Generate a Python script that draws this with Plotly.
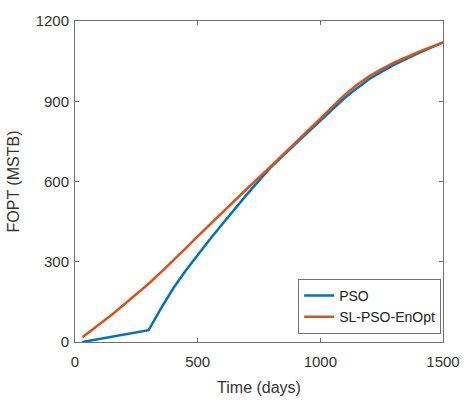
import plotly.graph_objects as go

pso_days = [30, 100, 200, 300, 350, 400, 450, 500, 550, 600, 650, 700, 750, 800, 900,
            1000, 1050, 1100, 1150, 1200, 1250, 1300, 1400, 1500]
pso_vals = [0, 11, 27, 44, 125, 200, 265, 325, 384, 440, 497, 551, 603, 655, 742,
            829, 871, 913, 949, 983, 1011, 1036, 1080, 1120]

sl_days = [30, 100, 150, 200, 250, 300, 350, 400, 450, 500, 550, 600, 700, 800, 900,
           1000, 1050, 1100, 1150, 1200, 1250, 1300, 1400, 1500]
sl_vals = [18, 66, 102, 140, 178, 218, 260, 303, 349, 395, 440, 485, 572, 658, 745,
           835, 880, 925, 962, 994, 1020, 1044, 1084, 1120]

x_ticks = [0, 500, 1000, 1500]
y_ticks = [0, 300, 600, 900, 1200]

fig = go.Figure()
fig.add_trace(go.Scatter(x=pso_days, y=pso_vals, mode="lines", name="PSO",
                         line=dict(color="#0072BD", width=2.5)))
fig.add_trace(go.Scatter(x=sl_days, y=sl_vals, mode="lines", name="SL-PSO-EnOpt",
                         line=dict(color="#D95319", width=2.5)))

axis_common = dict(showgrid=False, zeroline=False, showline=True, linecolor="#707070",
                   linewidth=1, mirror="ticks", ticks="inside", ticklen=4, tickcolor="#707070",
                   tickfont=dict(family="Liberation Sans, Arial", size=15, color="#333333"))

fig.update_xaxes(range=[0, 1500], tickvals=x_ticks, ticklabelstandoff=6,
                 title=dict(text="Time (days)", font=dict(family="Liberation Sans, Arial", size=16, color="#333333"), standoff=12),
                 **axis_common)
fig.update_yaxes(range=[0, 1200], tickvals=y_ticks, ticklabelstandoff=2,
                 title=dict(text="FOPT (MSTB)", font=dict(family="Liberation Sans, Arial", size=16, color="#333333"), standoff=12),
                 **axis_common)

fig.update_layout(
    width=472, height=406,
    margin=dict(l=75, r=23, t=16, b=64),
    plot_bgcolor="white", paper_bgcolor="white",
    legend=dict(x=0.995, y=0.025, xanchor="right", yanchor="bottom",
                bordercolor="#707070", borderwidth=1, bgcolor="white",
                font=dict(family="Liberation Sans, Arial", size=14, color="#222222"),
                tracegroupgap=0, itemwidth=30),
    showlegend=True,
)

fig.write_html("out.html")
